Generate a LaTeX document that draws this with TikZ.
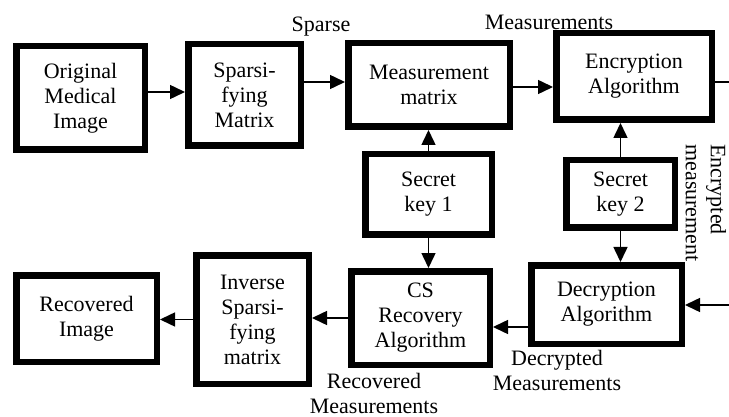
\documentclass[tikz,border=0pt]{standalone}
\usepackage{fontspec}
\setmainfont{Liberation Serif}
\usetikzlibrary{positioning,arrows.meta}
\tikzset{
  blk/.style={draw,line width=6.5pt,align=center,inner sep=2pt,font=\fontsize{22}{25}\selectfont},
  arr/.style={line width=1.5pt,-{Triangle[length=15pt,width=14pt]}},
  wire/.style={line width=1.5pt},
  lab/.style={align=center,inner sep=0pt,font=\fontsize{22}{25}\selectfont}
}
\begin{document}
\begin{tikzpicture}[x=1pt,y=-1pt]
  \useasboundingbox (0,0) rectangle (729,417);
  % top row
  \node[blk,minimum width=128.5pt,minimum height=103.5pt] (orig) at (80.5,98) {Original\\Medical\\Image};
  \node[blk,minimum width=112.5pt,minimum height=101.5pt] (spars) at (244.5,95) {Sparsi-\\fying\\Matrix};
  \node[blk,minimum width=161.5pt,minimum height=83.5pt] (meas) at (429,85) {Measurement\\matrix};
  \node[blk,minimum width=155.5pt,minimum height=86.5pt] (enc) at (634,76.5) {Encryption\\Algorithm};
  % keys
  \node[blk,minimum width=126.5pt,minimum height=80.5pt] (key1) at (428.5,194.5) {Secret\\key 1};
  \node[blk,minimum width=108.5pt,minimum height=67.5pt] (key2) at (620.5,194) {Secret\\key 2};
  % bottom row
  \node[blk,minimum width=140.5pt,minimum height=86.5pt] (rec) at (86.5,318.5) {Recovered\\Image};
  \node[blk,minimum width=112.5pt,minimum height=128.5pt] (inv) at (252.5,319.5) {Inverse\\Sparsi-\\fying\\matrix};
  \node[blk,minimum width=138.5pt,minimum height=93.5pt] (cs) at (420.5,318) {CS\\Recovery\\Algorithm};
  \node[blk,minimum width=150.5pt,minimum height=78.5pt] (dec) at (606.5,304.5) {Decryption\\Algorithm};
  % labels
  \node[lab] (lsparse) at (321,27) {Sparse};
  \node[lab] (lmeas) at (549,22) {Measurements};
  \node[lab,rotate=-90,align=left] (lenc) at (706,203) {Encrypted\\measurement};
  \node[lab] (ldec) at (557,370) {Decrypted\\Measurements};
  \node[lab] (lrec) at (374,393) {Recovered\\Measurements};
  % free ends
  \coordinate (eout) at (729,82);
  \coordinate (din) at (729,305);
  % connectors
  \draw[arr] (orig.east |- 0,92) -- (spars.west |- 0,92);
  \draw[arr] (spars.east |- 0,82) -- (meas.west |- 0,82);
  \draw[arr] (meas.east |- 0,87) -- (enc.west |- 0,87);
  \draw[wire] (enc.east |- eout) -- (eout);
  \draw[arr] (key1.north) -- (key1.north |- meas.south);
  \draw[arr] (key2.north) -- (key2.north |- enc.south);
  \draw[arr] (key1.south) -- (key1.south |- cs.north);
  \draw[arr] (key2.south) -- (key2.south |- dec.north);
  \draw[arr] (din) -- (din -| dec.east);
  \draw[arr] (dec.west |- 0,327) -- (cs.east |- 0,327);
  \draw[arr] (cs.west) -- (cs.west -| inv.east);
  \draw[arr] (inv.west) -- (inv.west -| rec.east);
\end{tikzpicture}
\end{document}
